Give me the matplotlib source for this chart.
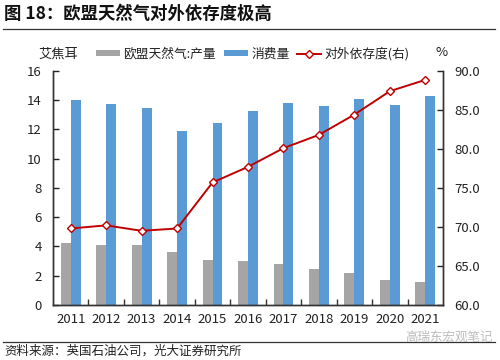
#!/usr/bin/env python3
"""EU natural gas: production, consumption and import dependence, 2011-2021."""

import matplotlib

matplotlib.use("Agg")
import matplotlib.pyplot as plt
import numpy as np

plt.rcParams["font.family"] = ["Noto Sans CJK SC", "DejaVu Sans"]
plt.rcParams["axes.unicode_minus"] = False

years = ["2011", "2012", "2013", "2014", "2015", "2016",
         "2017", "2018", "2019", "2020", "2021"]
production = [4.22, 4.09, 4.09, 3.61, 3.04, 2.97, 2.77, 2.47, 2.20, 1.72, 1.59]
consumption = [13.98, 13.73, 13.46, 11.92, 12.46, 13.23, 13.84, 13.60, 14.07, 13.69, 14.28]
dependence = [69.8, 70.2, 69.5, 69.8, 75.7, 77.7, 80.1, 81.8, 84.4, 87.4, 88.85]

GRAY = "#a5a5a5"
BLUE = "#5b9bd5"
RED = "#c00000"
TXT = "#222222"


def main() -> None:
    fig = plt.figure(figsize=(5.0, 3.6), dpi=100)
    ax = fig.add_axes([0.106, 0.153, 0.780, 0.650])
    ax2 = ax.twinx()

    x = np.arange(len(years))
    w = 0.28
    b1 = ax.bar(x - w / 2, production, width=w, color=GRAY, label="欧盟天然气:产量", zorder=2)
    b2 = ax.bar(x + w / 2, consumption, width=w, color=BLUE, label="消费量", zorder=2)
    (ln,) = ax2.plot(x, dependence, color=RED, lw=1.4, marker="D", ms=4.5,
                     mfc="white", mec=RED, mew=1.0, label="对外依存度(右)", zorder=3)

    ax.set_xlim(-0.5, len(years) - 0.5)
    ax.set_ylim(0, 16)
    ax.set_yticks(np.arange(0, 17, 2))
    ax2.set_ylim(60, 90)
    ax2.set_yticks(np.arange(60, 91, 5))
    ax2.set_yticklabels([f"{v:.1f}" for v in np.arange(60, 91, 5)])

    ax.set_xticks(x)
    ax.set_xticklabels(years)
    ax.set_xticks(np.arange(0.5, len(years) - 1, 1.0), minor=True)
    ax.tick_params(axis="x", which="major", length=0, pad=6, labelsize=9.5, colors=TXT)
    ax.tick_params(axis="x", which="minor", direction="in", length=4, width=1.0, color="#333333")
    ax.tick_params(axis="y", direction="in", length=4, width=1.0, pad=8,
                   labelsize=9.5, colors=TXT)
    ax2.tick_params(axis="y", direction="in", length=4, width=1.0, pad=8,
                    labelsize=9.5, colors=TXT)

    for a in (ax, ax2):
        a.spines["top"].set_visible(False)
        for s in ("left", "right", "bottom"):
            a.spines[s].set_color("#333333")
            a.spines[s].set_linewidth(1.0)

    fig.text(0.117, 0.85, "艾焦耳", ha="center", va="center", fontsize=9.5, color=TXT)
    fig.text(0.884, 0.853, "%", ha="center", va="center", fontsize=9.5, color=TXT)

    fig.legend(handles=[b1, b2, ln], loc="center left", bbox_to_anchor=(0.192, 0.851),
               ncol=3, frameon=False, fontsize=9.2, handlelength=1.9, handleheight=0.3,
               handletextpad=0.25, columnspacing=0.6, borderaxespad=0, borderpad=0,
               labelcolor=TXT)

    fig.text(0.008, 0.962, "图 18：欧盟天然气对外依存度极高", ha="left", va="center",
             fontsize=12.5, fontweight="bold", color="#111111")
    fig.add_artist(plt.Line2D([0.006, 0.99], [0.919, 0.919], color="#333333", lw=0.9))
    fig.add_artist(plt.Line2D([0.006, 0.99], [0.051, 0.051], color="#333333", lw=0.9))
    fig.text(0.008, 0.024, "资料来源：英国石油公司，光大证券研究所", ha="left", va="center",
             fontsize=9, color=TXT)
    fig.text(0.985, 0.062, "高瑞东宏观笔记", ha="right", va="center", fontsize=9,
             color="#b5b5b5", alpha=0.9)

    fig.savefig("out.png", dpi=100)
    plt.close(fig)


if __name__ == "__main__":
    main()
